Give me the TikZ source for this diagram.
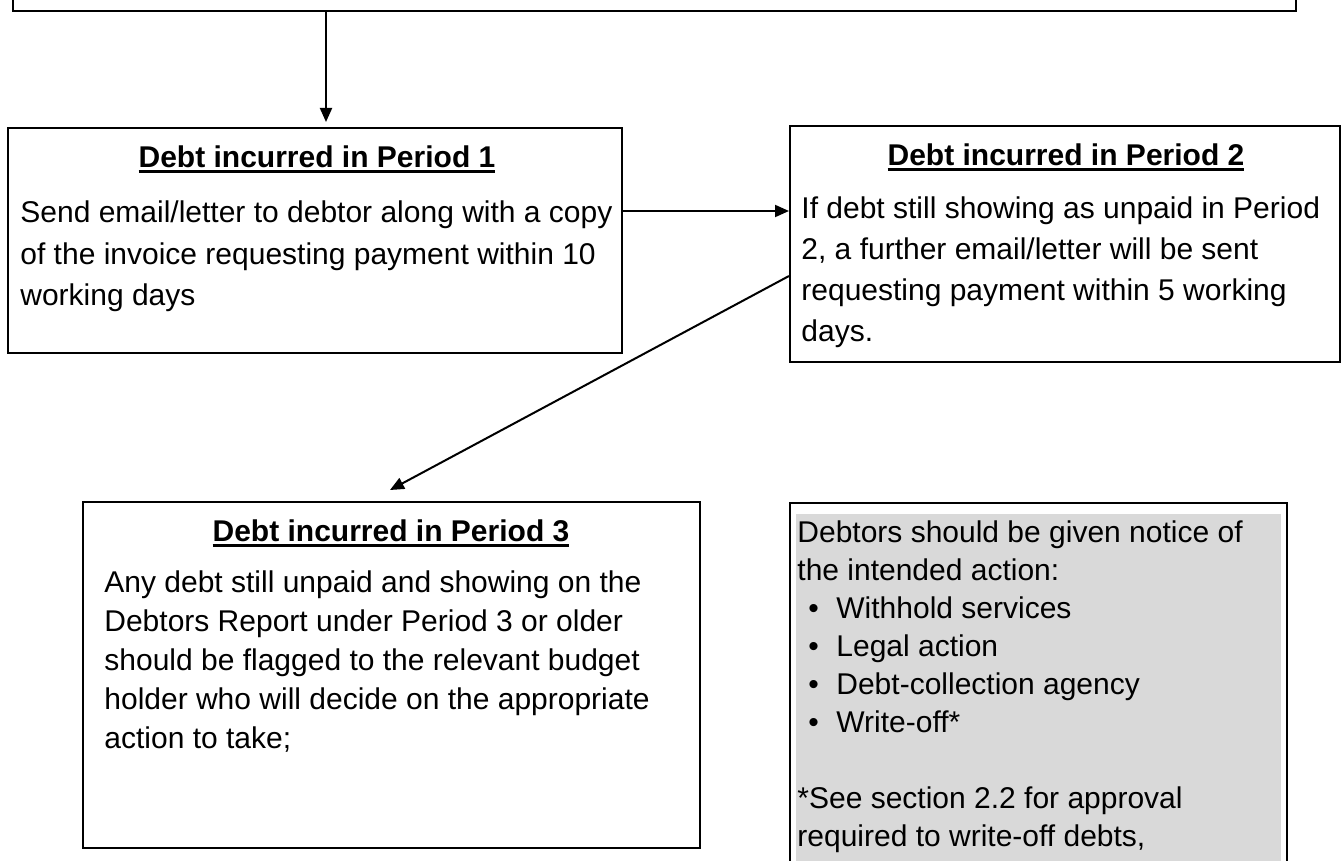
\documentclass[tikz,border=0pt]{standalone}
\usepackage{fontspec}
\setmainfont{Liberation Sans}
\usetikzlibrary{calc,shapes,positioning}
\usetikzlibrary{fit}
\usetikzlibrary{arrows.meta}
\tikzset{>={Triangle[width=6pt,length=7pt]}}
\definecolor{notegrey}{HTML}{D9D9D9}
\newcommand{\ulhead}[1]{\setbox0\hbox{#1}\rlap{\rule[-2.75pt]{\wd0}{1.5pt}}\box0}
\newcommand{\blt}{\hspace*{5.5pt}\makebox[14pt][l]{\textbullet}}

\begin{document}
\begin{tikzpicture}[x=0.5pt,y=-0.5pt]
          \tikzstyle{frame} = [draw=black, line width=1pt, rectangle, inner sep=0pt]
          \tikzstyle{head} = [anchor=base, inner sep=0pt, font=\fontsize{15pt}{20.5pt}\selectfont\bfseries]
          \tikzstyle{body} = [anchor=base west, inner sep=0pt, align=left, font=\fontsize{15pt}{20.5pt}\selectfont]
          \tikzstyle{note} = [anchor=base west, inner sep=0pt, align=left, font=\fontsize{15pt}{19pt}\selectfont]

          \useasboundingbox (0,0) rectangle (1343,861);

          % boxes
          \node[frame, fit={(13,-40) (1296,11)}] (intro) {};
          \node[frame, fit={(8,128) (622,353)}] (p1) {};
          \node[frame, fit={(790,126) (1340,362)}] (p2) {};
          \node[frame, fit={(83,502) (700,848)}] (p3) {};
          \node[frame, fit={(790,503) (1287,880)}] (p4) {};
          \node[fill=notegrey, inner sep=0pt, fit={(796,514) (1281,880)}] (shade) {};

          % texts (multi-line nodes sit on their last baseline)
          \node[head] (h1) at (317,168) {\ulhead{Debt incurred in Period 1}};
          \node[body] (b1) at (20,305) {Send email/letter to debtor along with a copy\\
            of the invoice requesting payment within 10\\
            working days};
          \node[head] (h2) at (1066,166) {\ulhead{Debt incurred in Period 2}};
          \node[body] (b2) at (801,341) {If debt still showing as unpaid in Period\\
            2, a further email/letter will be sent\\
            requesting payment within 5 working\\
            days.};
          \node[head] (h3) at (391,541) {\ulhead{Debt incurred in Period 3}};
          \node[body, font=\fontsize{15pt}{19.5pt}\selectfont] (b3) at (104,748) {Any debt still unpaid and showing on the\\
            Debtors Report under Period 3 or older\\
            should be flagged to the relevant budget\\
            holder who will decide on the appropriate\\
            action to take;};
          \node[note] (n4) at (797,846) {Debtors should be given notice of\\
            the intended action:\\
            \blt Withhold services\\
            \blt Legal action\\
            \blt Debt-collection agency\\
            \blt Write-off*\\
            \mbox{}\\
            *See section 2.2 for approval\\
            required to write-off debts,};

          % connectors
          \coordinate (a1) at (326,122);
          \coordinate (y2) at (0,211);
          \coordinate (y3) at (0,276);
          \coordinate (a3) at (390,490);
          \draw[->, line width=1pt] (intro.south -| a1) to (a1);
          \draw[->, line width=1pt] (p1.east |- y2) to (p2.west |- y2);
          \draw[->, line width=1pt] (p2.west |- y3) to (a3);
        \end{tikzpicture}
\end{document}
